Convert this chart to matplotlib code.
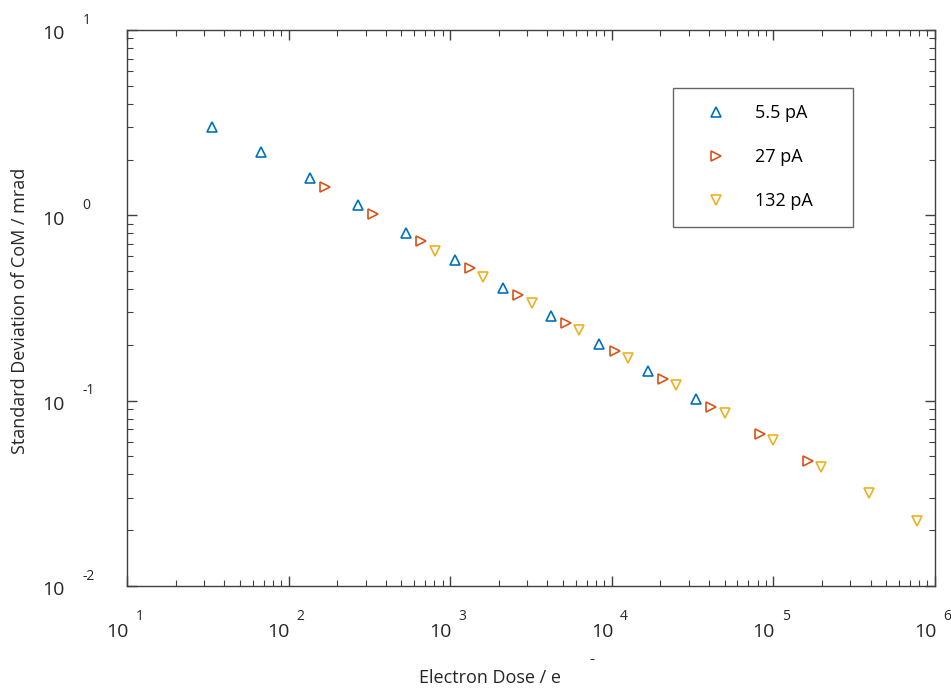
import numpy as np
import matplotlib
matplotlib.use('Agg')
from matplotlib import pyplot as plt

plt.rcParams['font.family'] = ['Open Sans', 'DejaVu Sans']

# dose (e-) and std dev of CoM (mrad)
dose_55 = [33.6, 68, 135, 269, 532, 1073, 2124, 4207, 8337, 16750, 33200]
std_55 = [3.0, 2.2, 1.59, 1.14, 0.80, 0.574, 0.405, 0.286, 0.202, 0.145, 0.102]

dose_27 = [168, 333, 659, 1325, 2630, 5210, 10470, 20750, 41100, 82600, 163700]
std_27 = [1.42, 1.016, 0.726, 0.52, 0.372, 0.262, 0.185, 0.131, 0.0923, 0.066, 0.0472]

dose_132 = [805, 1596, 3206, 6265, 12590, 24950, 50100, 99500, 197000, 391000, 775000]
std_132 = [0.641, 0.464, 0.336, 0.240, 0.170, 0.121, 0.0857, 0.0612, 0.0438, 0.0317, 0.0224]

labels = ['5.5 pA', '27 pA', '132 pA']
colors = ['#0072BD', '#D95319', '#EDB120']
markers = ['^', '>', 'v']

fig = plt.figure(figsize=(9.51, 6.90), dpi=100)
ax = fig.add_axes([0.1335, 0.1507, 0.8495, 0.8058])

for x, y, lab, c, m in zip([dose_55, dose_27, dose_132], [std_55, std_27, std_132],
                           labels, colors, markers):
    ax.plot(x, y, linestyle='none', marker=m, markersize=7.5, markerfacecolor='none',
            markeredgecolor=c, markeredgewidth=1.2, label=lab)

ax.set_xscale('log')
ax.set_yscale('log')
ax.set_xlim(1e1, 1e6)
ax.set_ylim(1e-2, 1e1)

for s in ax.spines.values():
    s.set_color('#404040')
    s.set_linewidth(1.0)
ax.tick_params(which='both', direction='in', top=True, right=True, colors='#404040')
ax.tick_params(which='major', length=7, width=1)
ax.tick_params(which='minor', length=4, width=0.8)
ax.set_xticklabels([])
ax.set_yticklabels([])
ax.xaxis.set_minor_formatter(plt.NullFormatter())
ax.yaxis.set_minor_formatter(plt.NullFormatter())

# tick labels in the style "10  n"
for e in range(1, 7):
    ax.annotate('10', xy=(10.0**e, 0), xycoords=('data', 'axes fraction'),
                xytext=(-7, -33), textcoords='offset points', ha='center', va='center',
                fontsize=14, color='#262626')
    ax.annotate(str(e), xy=(10.0**e, 0), xycoords=('data', 'axes fraction'),
                xytext=(6, -22), textcoords='offset points', ha='left', va='center',
                fontsize=10, color='#262626')
for e in range(-2, 2):
    ax.annotate('10', xy=(0, 10.0**e), xycoords=('axes fraction', 'data'),
                xytext=(-53, -3), textcoords='offset points', ha='center', va='center',
                fontsize=14, color='#262626')
    ax.annotate(str(e), xy=(0, 10.0**e), xycoords=('axes fraction', 'data'),
                xytext=(-32, 7), textcoords='offset points', ha='left', va='center',
                fontsize=10, color='#262626')

fig.text(0.515, 0.004, 'Electron Dose / e', ha='center', va='bottom', fontsize=13, color='#262626')
fig.text(0.622, 0.034, '-', ha='center', va='bottom', fontsize=11, color='#262626')
fig.text(0.021, 0.55, 'Standard Deviation of CoM / mrad', rotation=90, ha='center',
         va='center', fontsize=13, color='#262626')

leg = ax.legend(loc='upper left', bbox_to_anchor=(0.6757, 0.7957, 0.2228, 0.1), mode='expand',
                frameon=True, fancybox=False, fontsize=13, labelspacing=1.44, borderpad=0.9,
                handletextpad=0.67, borderaxespad=0, handlelength=3.0)
leg.get_frame().set_edgecolor('#404040')
leg.get_frame().set_linewidth(1.0)

plt.savefig('out.png', dpi=100)
